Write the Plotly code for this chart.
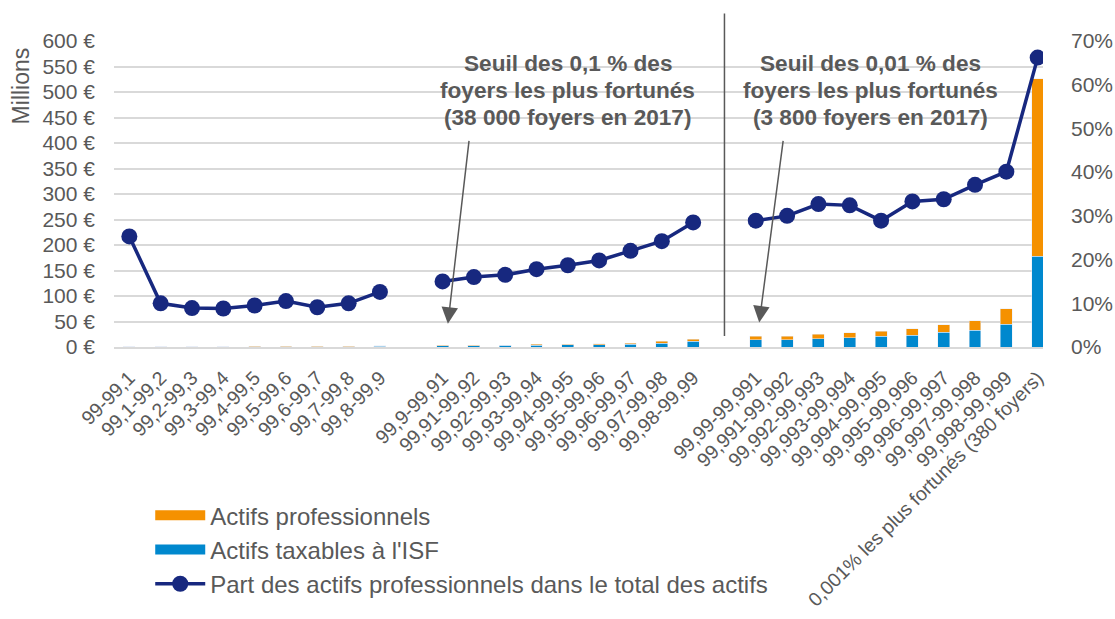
import plotly.graph_objects as go

# Wealth brackets (percentiles); blank entries are the gaps between groups
categories = [
    "99-99,1", "99,1-99,2", "99,2-99,3", "99,3-99,4", "99,4-99,5",
    "99,5-99,6", "99,6-99,7", "99,7-99,8", "99,8-99,9",
    "",
    "99,9-99,91", "99,91-99,92", "99,92-99,93", "99,93-99,94", "99,94-99,95",
    "99,95-99,96", "99,96-99,97", "99,97-99,98", "99,98-99,99",
    " ",
    "99,99-99,991", "99,991-99,992", "99,992-99,993", "99,993-99,994",
    "99,994-99,995", "99,995-99,996", "99,996-99,997", "99,997-99,998",
    "99,998-99,999", "0,001% les plus fortunés (380 foyers)",
]

# Millions of euros per household
isf_assets = [
    0.2, 0.1, 0.1, 0.1, 0.2, 0.2, 0.2, 0.8, 1.4,
    None,
    2.6, 2.7, 3.0, 3.8, 4.4, 4.5, 5.5, 7.8, 11.0,
    None,
    14.5, 14.5, 16.5, 18.5, 21.5, 23.5, 28.5, 32.5, 45.0, 178.0,
]
pro_assets = [
    0.3, 0.6, 0.6, 0.6, 1.1, 1.1, 1.1, 1.0, 0.6,
    None,
    0.6, 0.6, 0.8, 1.2, 1.4, 1.4, 2.2, 3.1, 4.4,
    None,
    6.5, 6.8, 8.5, 9.0, 9.0, 12.0, 15.0, 19.3, 29.8, 348.0,
]
# Share of professional assets in total assets (%)
pro_share = [
    25.3, 10.0, 8.9, 8.8, 9.5, 10.5, 9.1, 10.0, 12.6,
    None,
    15.0, 16.0, 16.5, 17.8, 18.7, 19.8, 22.0, 24.2, 28.5,
    None,
    28.9, 30.0, 32.7, 32.4, 28.9, 33.3, 33.8, 37.1, 40.1, 66.2,
]

note_01 = ["Seuil des 0,1 % des", "foyers les plus fortunés", "(38 000 foyers en 2017)"]
note_001 = ["Seuil des 0,01 % des", "foyers les plus fortunés", "(3 800 foyers en 2017)"]

ORANGE = "#F59100"
BLUE = "#0088CE"
NAVY = "#17287F"
GREY = "#595959"
FONT = "Liberation Sans, Arial, sans-serif"

x = list(range(len(categories)))

fig = go.Figure()

fig.add_trace(go.Bar(x=x, y=isf_assets, marker_color=BLUE, showlegend=False))
fig.add_trace(go.Bar(x=x, y=pro_assets, marker_color=ORANGE, showlegend=False))
fig.add_trace(go.Scatter(
    x=x, y=pro_share, yaxis="y2", mode="lines+markers",
    line=dict(color=NAVY, width=3.5), marker=dict(color=NAVY, size=16),
    connectgaps=False, name="Part des actifs professionnels dans le total des actifs",
    legendrank=3,
))

# legend entries drawn as wide rectangles, like the original
fig.add_trace(go.Scatter(x=[None], y=[None], mode="lines", line=dict(color=ORANGE, width=12),
                         name="Actifs professionnels", legendrank=1))
fig.add_trace(go.Scatter(x=[None], y=[None], mode="lines", line=dict(color=BLUE, width=12),
                         name="Actifs taxables à l'ISF", legendrank=2))

# separator between the 0,1 % and 0,01 % groups
fig.add_shape(type="line", xref="x", yref="paper", x0=19, x1=19, y0=0.036, y1=1.09,
              line=dict(color=GREY, width=1.5))

for nx, lines in [(14.0, note_01), (23.67, note_001)]:
    for i, txt in enumerate(lines):
        fig.add_annotation(x=nx, y=0.837, xref="x", yref="paper", text=f"<b>{txt}</b>",
                           showarrow=False, xanchor="center", yanchor="middle",
                           yshift=(1 - i) * 27,
                           font=dict(family=FONT, size=22.6, color=GREY))

arrows = [(10.17, 45.6, 10.85, 407), (20.11, 48, 20.88, 407)]
for tx, ty, sx, sy in arrows:
    fig.add_annotation(x=tx, y=ty, ax=sx, ay=sy, xref="x", yref="y", axref="x", ayref="y",
                       text="", showarrow=True, arrowhead=2, arrowsize=2.2, arrowwidth=1.5,
                       arrowcolor=GREY, standoff=0)

fig.add_annotation(x=-0.1, y=0.852, xref="paper", yref="paper", text="Millions",
                   textangle=-90, showarrow=False, xanchor="center", yanchor="middle",
                   font=dict(family=FONT, size=23, color=GREY))

fig.update_layout(
    width=1115, height=619,
    margin=dict(l=114, r=72, t=41, b=257),
    plot_bgcolor="white", paper_bgcolor="white",
    barmode="stack", bargap=0.62,
    font=dict(family=FONT, size=21, color=GREY),
    xaxis=dict(
        range=[-0.49, 29.17], tickvals=x, ticktext=categories, tickangle=-45,
        showgrid=False, showline=True, linecolor="#D9D9D9", linewidth=1.5,
        ticks="", automargin=False, ticklabelstandoff=10,
        tickfont=dict(size=19.5, color=GREY),
    ),
    yaxis=dict(
        range=[0, 600], dtick=50, ticksuffix=" €", gridcolor="#D9D9D9", gridwidth=1.5,
        zeroline=False, ticks="", automargin=False, ticklabelstandoff=18,
        tickfont=dict(size=21, color=GREY),
    ),
    yaxis2=dict(
        range=[0, 70], dtick=10, ticksuffix="%", overlaying="y", side="right",
        showgrid=False, zeroline=False, ticks="", automargin=False,
        ticklabelstandoff=27, tickfont=dict(size=21, color=GREY),
    ),
    legend=dict(
        x=0.039, y=-0.478, xanchor="left", yanchor="top", traceorder="normal",
        font=dict(family=FONT, size=24, color=GREY), itemwidth=50,
        bgcolor="rgba(0,0,0,0)",
    ),
)

# page body margin would shift the chart by 8 px
fig.write_html("out.html", config={"displayModeBar": False},
               post_script="document.body.style.margin='0';")
